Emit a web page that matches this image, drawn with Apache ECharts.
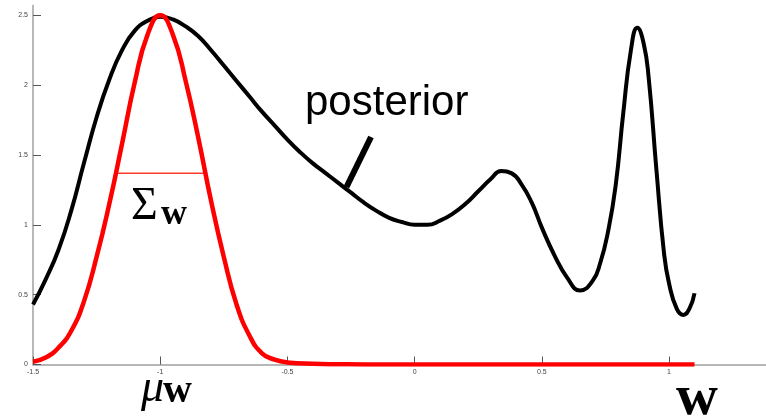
<!DOCTYPE html>
<html>
<head>
<meta charset="utf-8">
<script src="https://cdn.jsdelivr.net/npm/echarts@6/dist/echarts.min.js"></script>
<style>html,body{margin:0;padding:0;background:#fff;}#c{width:766px;height:416px;}</style>
</head>
<body>
<div id="c"></div>
<script>
// posterior (black) curve
const postX = [-1.50,-1.45,-1.40,-1.35,-1.30,-1.25,-1.20,-1.15,-1.10,-1.05,-1.00,-0.95,-0.90,-0.85,-0.80,-0.75,-0.70,-0.65,-0.60,-0.55,-0.50,-0.45,-0.40,-0.35,-0.30,-0.25,-0.20,-0.15,-0.10,-0.05,0.00,0.05,0.10,0.15,0.20,0.25,0.30,0.34,0.38,0.42,0.46,0.50,0.55,0.60,0.65,0.70,0.73,0.76,0.79,0.82,0.85,0.875,0.90,0.92,0.95,0.98,1.00,1.03,1.056,1.08,1.10];
const postY = [0.43,0.61,0.82,1.10,1.44,1.77,2.04,2.25,2.39,2.46,2.49,2.47,2.42,2.35,2.25,2.14,2.03,1.92,1.81,1.71,1.61,1.52,1.44,1.37,1.30,1.23,1.16,1.10,1.05,1.02,1.00,1.00,1.03,1.08,1.15,1.24,1.33,1.385,1.37,1.29,1.16,0.98,0.78,0.62,0.53,0.60,0.73,0.95,1.28,1.80,2.25,2.41,2.30,2.05,1.40,0.80,0.58,0.40,0.355,0.40,0.51];
// prior / gaussian approx (red) curve
const gaussX = [-1.50,-1.45,-1.40,-1.35,-1.30,-1.25,-1.20,-1.15,-1.10,-1.05,-1.00,-0.95,-0.90,-0.85,-0.80,-0.75,-0.70,-0.65,-0.60,-0.55,-0.50,-0.40,-0.30,-0.20,0.00,0.50,1.10];
const gaussY = [0.02,0.05,0.12,0.24,0.45,0.77,1.15,1.58,2.02,2.36,2.50,2.36,2.03,1.62,1.17,0.77,0.43,0.21,0.08,0.035,0.015,0.005,0.002,0.0,0.0,0.0,0.0];
// width marker of the gaussian
const sigmaX = [-1.17,-0.82];
const sigmaY = [1.37,1.37];
// tick labels
const xTicks = [-1.5,-1,-0.5,0,0.5,1];
const yTicks = [0,0.5,1,1.5,2,2.5];

const zip = (a,b) => a.map((v,i)=>[v,b[i]]);
const chart = echarts.init(document.getElementById('c'), null, {renderer:'canvas'});
const axisCol = '#a0a0a0';
chart.setOption({
  animation:false,
  backgroundColor:'#fff',
  grid:{left:33, right:0, top:5.5, bottom:51.5},
  xAxis:{type:'value', min:-1.5, max:1.381, interval:0.5,
    axisLine:{show:true, onZero:false, lineStyle:{color:axisCol, width:1.5}},
    axisTick:{show:true, inside:true, length:8, customValues:xTicks, lineStyle:{color:'#555', width:1}},
    axisLabel:{show:true, customValues:xTicks, fontSize:7, color:'#444', margin:4, fontFamily:'Liberation Sans',
      formatter:v=>String(v)},
    splitLine:{show:false}},
  yAxis:{type:'value', min:0, max:2.57, interval:0.5,
    axisLine:{show:true, onZero:false, lineStyle:{color:axisCol, width:1.5}},
    axisTick:{show:true, inside:true, length:8, customValues:yTicks, lineStyle:{color:'#555', width:1}},
    axisLabel:{show:true, customValues:yTicks, fontSize:7, color:'#444', margin:5, fontFamily:'Liberation Sans',
      formatter:v=>String(v)},
    splitLine:{show:false}},
  series:[
    {type:'line', data:zip(postX,postY), smooth:0.5, symbol:'none', lineStyle:{color:'#000', width:4}, z:3},
    {type:'line', data:zip(gaussX,gaussY), smooth:0.5, symbol:'none', lineStyle:{color:'#ff0000', width:4.5}, z:4},
    {type:'line', data:zip(sigmaX,sigmaY), symbol:'none', lineStyle:{color:'#ff3b2b', width:1.5}, z:2}
  ],
  graphic:[
    {type:'text', left:305, top:82, style:{text:'posterior', font:'42px "Liberation Sans"', fill:'#000'}},
    {type:'line', shape:{x1:346.5, y1:187, x2:371, y2:137}, style:{stroke:'#000', lineWidth:6}},
    {type:'text', left:131, top:184, style:{text:'\u03A3', font:'46px "Liberation Serif"', fill:'#000'}},
    {type:'text', left:161, top:197, style:{text:'w', font:'bold 36px "Liberation Serif"', fill:'#000'}},
    {type:'text', left:141, top:366, style:{text:'\u03BC', font:'italic 46px "Liberation Serif"', fill:'#000'}},
    {type:'text', left:163, top:372, style:{text:'w', font:'bold 40px "Liberation Serif"', fill:'#000'}},
    {type:'text', left:676, top:370, style:{text:'w', font:'bold 58px "Liberation Serif"', fill:'#000'}}
  ]
});
</script>
</body>
</html>
